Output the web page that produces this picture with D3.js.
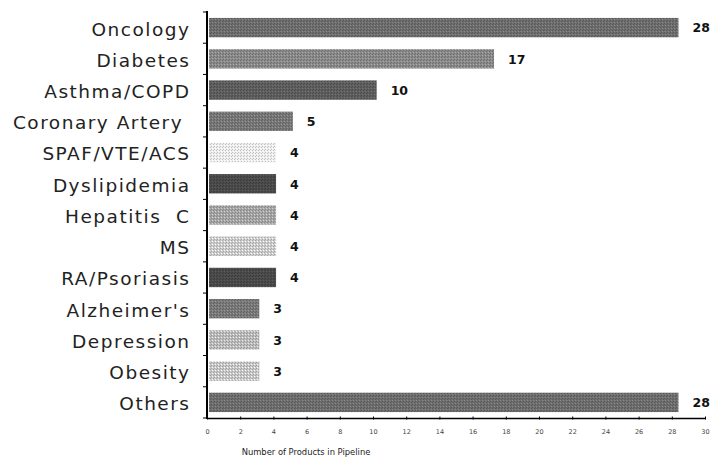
<!DOCTYPE html>
<html><head><meta charset="utf-8">
<script src="https://cdn.jsdelivr.net/npm/d3@7"></script>
<style>body{margin:0;background:#fff} text{white-space:pre}</style>
</head><body>
<svg id="c" width="713" height="459"></svg>
<script>
const categories = ["Oncology","Diabetes","Asthma/COPD","Coronary Artery ","SPAF/VTE/ACS","Dyslipidemia","Hepatitis  C","MS","RA/Psoriasis","Alzheimer's","Depression","Obesity","Others"];
const values = [28,17,10,5,4,4,4,4,4,3,3,3,28];
const barColors = ["#6e6e6e","#8a8a8a","#5e5e5e","#787878","#efefef","#4a4a4a","#a6a6a6","#cdcdcd","#4a4a4a","#7a7a7a","#bcbcbc","#c8c8c8","#6e6e6e"];
const xTicks = [0,2,4,6,8,10,12,14,16,18,20,22,24,26,28,30];
const xTitle = "Number of Products in Pipeline";

const svg = d3.select("#c");
const xBar = d3.scaleLinear().domain([0,30]).range([209,712]);
const x = d3.scaleLinear().domain([0,30]).range([207,705]);
const y = d3.scaleBand().domain(categories).range([12,418]).paddingInner(0.38).paddingOuter(0.19);

const defs = svg.append("defs");
barColors.forEach((c,i)=>{
  const p = defs.append("pattern").attr("id","p"+i).attr("patternUnits","userSpaceOnUse")
    .attr("width",3).attr("height",3);
  p.append("rect").attr("width",3).attr("height",3).attr("fill",c);
  const dk = d3.color(c).darker(0.6), lt = d3.color(c).brighter(0.6);
  p.append("rect").attr("x",0).attr("y",0).attr("width",1).attr("height",1).attr("fill",dk);
  p.append("rect").attr("x",2).attr("y",1).attr("width",1).attr("height",1).attr("fill",lt);
  p.append("rect").attr("x",1).attr("y",2).attr("width",1).attr("height",1).attr("fill",dk);
});

svg.selectAll("rect.bar").data(categories).join("rect").attr("class","bar")
  .attr("x",xBar(0)).attr("y",d=>y(d)).attr("height",y.bandwidth())
  .attr("width",(d,i)=>xBar(values[i])-xBar(0))
  .attr("fill",(d,i)=>"url(#p"+i+")");

svg.selectAll("text.cat").data(categories).join("text").attr("class","cat")
  .attr("x",190.5).attr("y",d=>y(d)+y.bandwidth()/2).attr("dy","0.43em")
  .attr("text-anchor","end").attr("font-family","DejaVu Sans").attr("font-size",18.5)
  .attr("letter-spacing",1.5)
  .attr("fill","#222").text(d=>d);

svg.selectAll("text.val").data(categories).join("text").attr("class","val")
  .attr("x",(d,i)=>xBar(values[i])+14).attr("y",d=>y(d)+y.bandwidth()/2).attr("dy","0.38em")
  .attr("font-family","DejaVu Sans").attr("font-weight","bold").attr("font-size",12.5)
  .attr("fill","#111").text((d,i)=>values[i]);

// y axis
const yAxis = svg.append("g").attr("transform","translate(207,0)");
yAxis.append("line").attr("x1",0).attr("x2",0).attr("y1",11).attr("y2",419).attr("stroke","#000").attr("stroke-width",2);
const n = categories.length;
yAxis.selectAll("line.t").data(d3.range(n+1)).join("line").attr("class","t")
  .attr("x1",-4).attr("x2",0)
  .attr("y1",i=>y.range()[0]+i*(y.range()[1]-y.range()[0])/n)
  .attr("y2",i=>y.range()[0]+i*(y.range()[1]-y.range()[0])/n)
  .attr("stroke","#000").attr("stroke-width",1);

// x axis
const xAxis = svg.append("g").attr("transform","translate(0,418)")
  .call(d3.axisBottom(x).tickValues(xTicks).tickSize(3).tickSizeOuter(0));
xAxis.select(".domain").attr("stroke","#000").attr("stroke-width",1.5);
xAxis.selectAll(".tick text").attr("font-family","DejaVu Sans").attr("font-size",6.5).attr("fill","#444").attr("dy","1.5em");
xAxis.selectAll(".tick line").attr("transform","translate(0,-1.5)");

svg.append("text").attr("x",306).attr("y",455).attr("text-anchor","middle")
  .attr("font-family","DejaVu Sans Condensed, DejaVu Sans").attr("font-size",9.3).attr("fill","#222").text(xTitle);
</script>
</body></html>
